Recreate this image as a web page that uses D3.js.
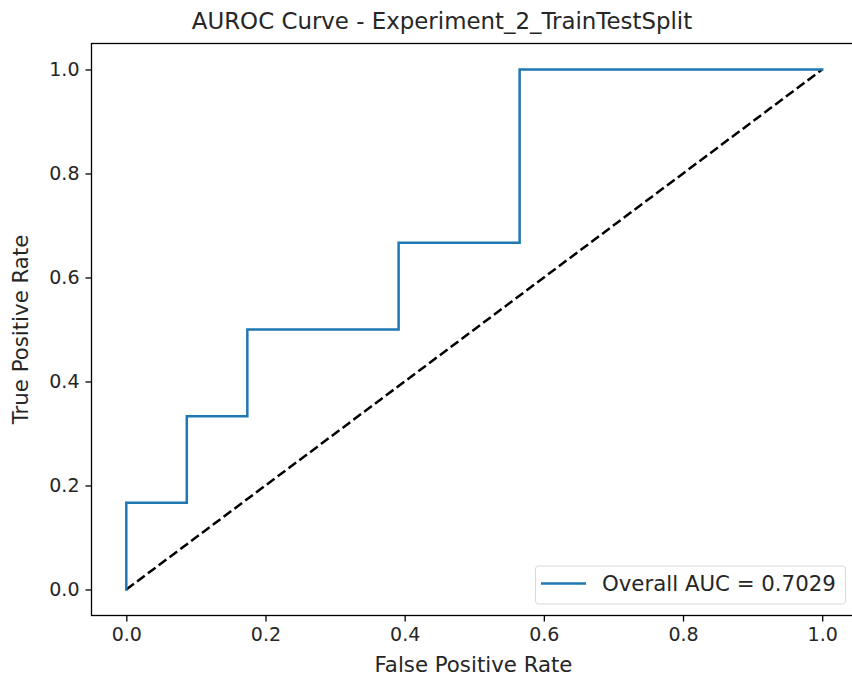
<!DOCTYPE html>
<html>
<head>
<meta charset="utf-8">
<script src="https://cdn.jsdelivr.net/npm/d3@7"></script>
<style>
  body { margin: 0; background: #fff; }
  svg { font-family: "DejaVu Sans", sans-serif; }
</style>
</head>
<body>
<div id="graph"></div>
<script>
// ROC curve (6 positives, 23 negatives)
const fpr = [0, 0, 2/23, 2/23, 4/23, 4/23, 9/23, 9/23, 13/23, 13/23, 1];
const tpr = [0, 1/6, 1/6, 2/6, 2/6, 3/6, 3/6, 4/6, 4/6, 1, 1];
const chanceLine = [0, 1];
const tickValues = [0, 0.2, 0.4, 0.6, 0.8, 1.0];
const titleText = "AUROC Curve - Experiment_2_TrainTestSplit";
const legendText = "Overall AUC = 0.7029";

const width = 852, height = 684;
const margin = {top: 43.5, right: -5, bottom: 68.5, left: 91.5};
const innerW = width - margin.left - margin.right;
const innerH = height - margin.top - margin.bottom;

const svg = d3.select('#graph')
    .append('svg')
    .attr('width', width)
    .attr('height', height);

const g = svg.append('g')
    .attr('transform', `translate(${margin.left},${margin.top})`);

const xScale = d3.scaleLinear().domain([-0.05, 1.05]).range([0, innerW]);
const yScale = d3.scaleLinear().domain([-0.05, 1.05]).range([innerH, 0]);

// axes
const xAxis = g.append('g')
    .attr('transform', `translate(0,${innerH})`)
    .call(d3.axisBottom(xScale).tickValues(tickValues).tickFormat(d3.format('.1f')).tickSize(6).tickPadding(6));
const yAxis = g.append('g')
    .call(d3.axisLeft(yScale).tickValues(tickValues).tickFormat(d3.format('.1f')).tickSize(6).tickPadding(6));

[xAxis, yAxis].forEach(ax => {
    ax.select('.domain').remove();
    ax.selectAll('text').style('font-size', '19px').style('fill', '#262626').attr('font-family', 'DejaVu Sans');
    ax.selectAll('line').style('stroke', '#000').style('stroke-width', 1.3);
});

// frame
g.append('rect')
    .attr('x', 0).attr('y', 0)
    .attr('width', innerW).attr('height', innerH)
    .style('fill', 'none')
    .style('stroke', '#000')
    .style('stroke-width', 1.3);

// chance diagonal
g.append('line')
    .attr('x1', xScale(chanceLine[0])).attr('y1', yScale(chanceLine[0]))
    .attr('x2', xScale(chanceLine[1])).attr('y2', yScale(chanceLine[1]))
    .style('stroke', '#000')
    .style('stroke-width', 2.5)
    .style('stroke-dasharray', '9.5,4');

// ROC step line
const points = fpr.map((x, i) => [x, tpr[i]]);
g.append('path')
    .datum(points)
    .attr('d', d3.line().x(d => xScale(d[0])).y(d => yScale(d[1])))
    .style('fill', 'none')
    .style('stroke', '#1f77b4')
    .style('stroke-width', 2.5)
    .style('stroke-linejoin', 'miter')
    .style('stroke-linecap', 'square');

// legend
const legend = svg.append('g').attr('class', 'legend');
legend.append('rect')
    .attr('x', 535.5).attr('y', 566)
    .attr('width', 310).attr('height', 38)
    .attr('rx', 3)
    .style('fill', '#fff')
    .style('fill-opacity', 0.8)
    .style('stroke', '#d9d9d9')
    .style('stroke-width', 1);
legend.append('line')
    .attr('x1', 541).attr('x2', 586)
    .attr('y1', 583.5).attr('y2', 583.5)
    .style('stroke', '#1f77b4')
    .style('stroke-width', 2.5);
legend.append('text')
    .attr('x', 602).attr('y', 591)
    .style('font-size', '21.3px')
    .style('fill', '#262626')
    .text(legendText);

// title and axis labels
svg.append('text')
    .attr('x', 442)
    .attr('y', 29)
    .attr('text-anchor', 'middle')
    .style('font-size', '22.9px')
    .style('fill', '#262626')
    .text(titleText);

svg.append('text')
    .attr('x', 473.5)
    .attr('y', 672)
    .attr('text-anchor', 'middle')
    .style('font-size', '21.3px')
    .style('fill', '#262626')
    .text('False Positive Rate');

svg.append('text')
    .attr('transform', `translate(28,${margin.top + innerH / 2}) rotate(-90)`)
    .attr('text-anchor', 'middle')
    .style('font-size', '21.3px')
    .style('fill', '#262626')
    .text('True Positive Rate');
</script>
</body>
</html>
